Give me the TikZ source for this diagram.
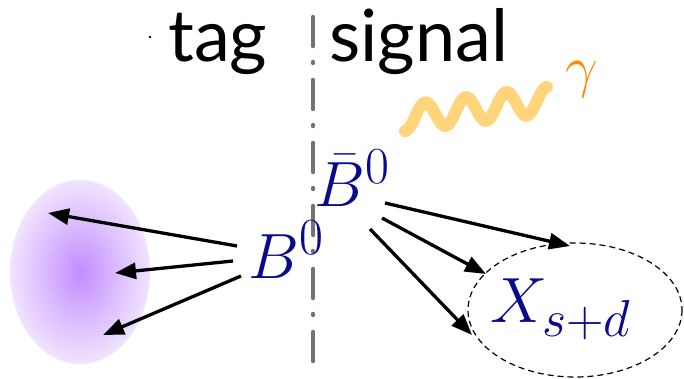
\RequirePackage{fix-cm}
\documentclass[tikz,border=0pt]{standalone}
\usepackage{fontspec}
\setmainfont{Lato}
\usetikzlibrary{arrows.meta}
\DeclareMathSizes{64}{64}{52}{40}
\DeclareMathSizes{58}{58}{46}{36}
\definecolor{navyB}{RGB}{10,10,140}
\definecolor{photon}{RGB}{255,212,122}
\definecolor{gam}{RGB}{255,136,0}
\definecolor{blobin}{RGB}{196,140,255}
\definecolor{blobout}{RGB}{240,228,255}
\tikzset{
  decay/.style={line width=3.3pt,-{Triangle[length=21pt,width=16pt]}},
  divider/.style={line width=3.4pt,gray!90!black,line cap=round,dash pattern=on 30pt off 15pt on 2pt off 16pt},
  lbl/.style={inner sep=0pt,text=navyB,font=\fontsize{64}{64}\selectfont},
  head/.style={inner sep=0pt,font=\fontsize{72}{72}\selectfont}
}
\begin{document}
\begin{tikzpicture}[x=1pt,y=-1pt]
\useasboundingbox (0,0) rectangle (684,379);
% blob
\shade[inner color=blobin,outer color=blobout] (80,272) ellipse [x radius=70,y radius=92];
% divider
\draw[divider] (313,16.5) -- (313,365);
% headings
\node[head,anchor=base west] (tag) at (168,62) {tag};
\node[head,anchor=base west] (sig) at (329,62) {signal};
\fill (150,37) circle (1.3pt);
% photon
\draw[photon,line width=12pt,line cap=round]
  plot[domain=0:1,samples=200,smooth] ({405+142*\x},{118-18*\x+13*cos(1260*\x)});
\node[inner sep=0pt,text=gam,font=\fontsize{58}{58}\selectfont,anchor=base west] (g) at (565,87) {$\gamma$};
% labels
\node[lbl,anchor=base west] (B) at (248,278) {$B^0$};
\node[lbl,anchor=base west] (Bb) at (314,207) {$\bar B^0$};
\node[lbl,anchor=base west] (X) at (490,322) {$X_{s+d}$};
\draw[dashed,line width=1.2pt,dash pattern=on 6pt off 4pt] (575,310) ellipse [x radius=107,y radius=67];
% arrows tag side
\coordinate (b1) at (237,246); \coordinate (t1) at (48,213);
\coordinate (b2) at (233,261); \coordinate (t2) at (115,273);
\coordinate (b3) at (241,276); \coordinate (t3) at (103,335);
\draw[decay] (b1) -- (t1);
\draw[decay] (b2) -- (t2);
\draw[decay] (b3) -- (t3);
% arrows signal side
\coordinate (s1) at (385,203); \coordinate (u1) at (570,246);
\coordinate (s2) at (382,218); \coordinate (u2) at (486,274);
\coordinate (s3) at (370,229); \coordinate (u3) at (472,335);
\draw[decay] (s1) -- (u1);
\draw[decay] (s2) -- (u2);
\draw[decay] (s3) -- (u3);
\end{tikzpicture}
\end{document}
